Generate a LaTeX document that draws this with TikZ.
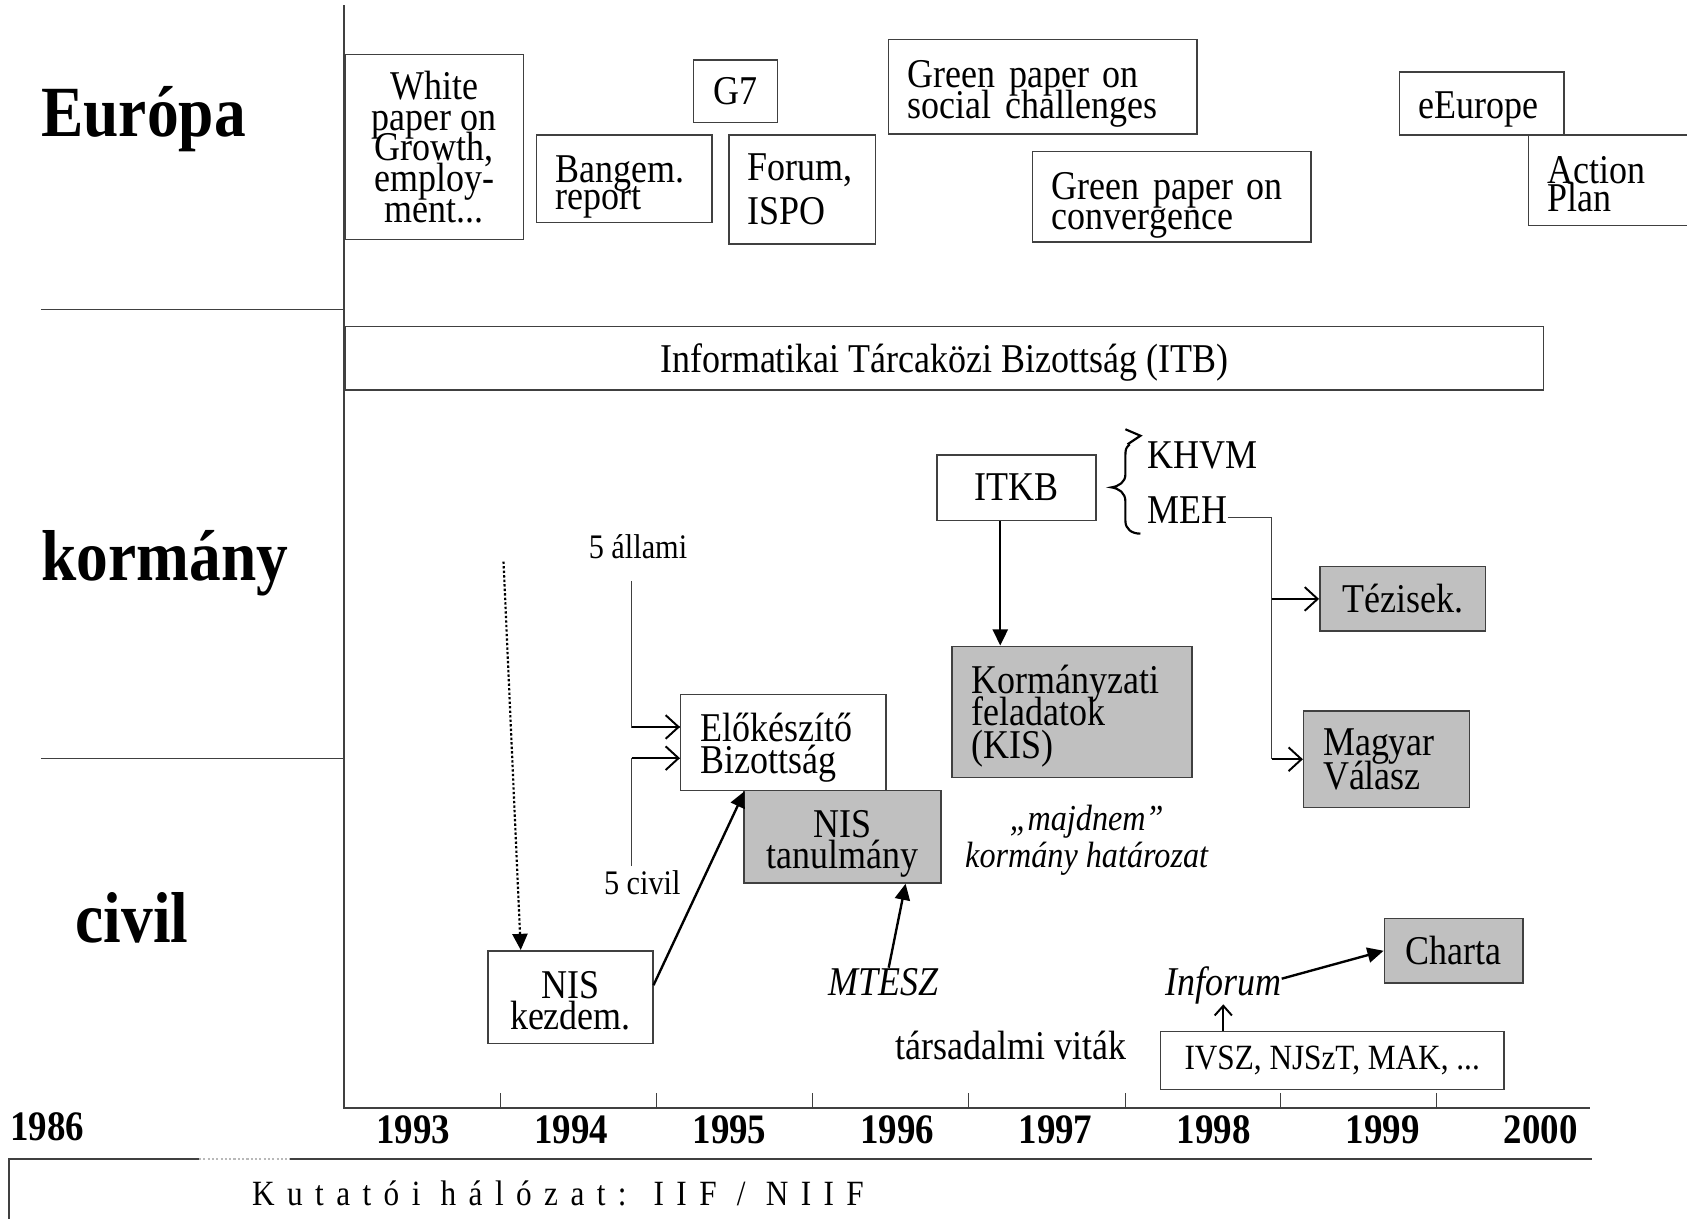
\documentclass[tikz,border=0pt]{standalone}
\usepackage{fontspec}
\setmainfont{Liberation Serif}[FakeStretch=0.88]
\newfontfamily\spacedfont{Liberation Serif}[FakeStretch=0.88,LetterSpace=35]
\usetikzlibrary{arrows.meta}
\definecolor{boxgray}{HTML}{C0C0C0}
\definecolor{edge}{HTML}{404040}
\newcommand\tightfont[1]{\fontsize{19}{#1}\selectfont\lineskiplimit=-40pt\lineskip=0pt\relax}
\newcommand\firstup[1]{\rule{0pt}{#1}}
\tikzset{
  box/.style={draw=edge, line width=0.7pt, inner sep=0pt, anchor=north west, align=center, font=\tightfont{15}},
  gbox/.style={box, fill=boxgray},
  lft/.style 2 args={text width=#1, inner xsep=#2, align=left},
  txt/.style={inner sep=0pt, font=\fontsize{19}{20}\selectfont},
  itxt/.style={inner sep=0pt, font=\fontsize{19}{20}\selectfont\itshape},
  big/.style={inner sep=0pt, anchor=base west, font=\fontsize{33.5}{36}\selectfont\bfseries},
  yr/.style={inner sep=0pt, anchor=base, font=\fontsize{19.5}{20}\selectfont\bfseries},
  rule/.style={draw=edge, line width=0.6pt},
  openarr/.style={draw=black, line width=0.9pt, -{Straight Barb[length=6pt,width=11pt,line width=0.9pt]}},
  smallopen/.style={draw=black, line width=0.9pt, -{Straight Barb[length=4.5pt,width=8pt,line width=0.9pt]}},
  fillarr/.style={draw=black, line width=1.1pt, -{Triangle[length=7.5pt,width=7pt]}},
}
\begin{document}
\begin{tikzpicture}[x=0.5pt,y=-0.5pt]
\useasboundingbox (0,0) rectangle (1568,1133);

% axes and separators
\draw[edge, line width=1pt] (320,5) -- (320,1030) -- (1478,1030);
\foreach \x in {465,610,755,900,1046,1190,1335}
  \draw[edge, line width=0.6pt] (\x,1016) -- (\x,1030);
\draw[rule] (38,288) -- (320,288);
\draw[rule] (38,705) -- (320,705);
\draw[edge, line width=1pt] (8,1140) -- (8,1077) -- (185,1077);
\draw[gray!55, line width=1pt, densely dotted] (185,1077) -- (270,1077);
\draw[edge, line width=1pt] (270,1077) -- (1480,1077);

% row labels
\node[big] (eur) at (38,127) {Európa};
\node[big] (korm) at (38,540) {kormány};
\node[big] (civ) at (70,876) {civil};

% years
\node[yr] (y86) at (44,1060) {1986};
\node[yr] (y93) at (384,1063) {1993};
\node[yr] (y94) at (531,1063) {1994};
\node[yr] (y95) at (678,1063) {1995};
\node[yr] (y96) at (834,1063) {1996};
\node[yr] (y97) at (981,1063) {1997};
\node[yr] (y98) at (1128,1063) {1998};
\node[yr] (y99) at (1285,1063) {1999};
\node[yr] (y00) at (1432,1063) {2000};
\node[inner sep=0pt, anchor=base west, font={\spacedfont\fontsize{16.5}{18}\selectfont}] (kut) at (234,1120) {Kutatói hálózat: IIF / NIIF};

% Europe boxes
\node[box, minimum width=83pt, minimum height=86pt, font=\tightfont{14.25}] (wp) at (320,50) {White\\paper on\\Growth,\\employ-\\ment...};
\node[box, lft={63.5pt}{9pt}, minimum height=40.5pt, font=\tightfont{12.5}] (bang) at (498,125) {\firstup{20pt}Bangem.\\report};
\node[box, minimum width=39pt, minimum height=29pt] (g7) at (644,55) {G7};
\node[box, lft={51pt}{8.5pt}, minimum height=50.5pt, font=\tightfont{20.5}] (forum) at (677,125) {Forum,\\ISPO};
\node[box, lft={125.5pt}{9pt}, minimum height=44pt, font=\tightfont{14.5}] (gsoc) at (825,36) {\firstup{19pt}Green paper on\\social challenges};
\node[box, lft={111.5pt}{9pt}, minimum height=42pt, font=\tightfont{14}] (gconv) at (959,140) {\firstup{21pt}Green paper on\\convergence};
\node[box, lft={58.5pt}{9pt}, minimum height=29.5pt] (eeu) at (1300,66) {\firstup{18pt}eEurope};
\node[box, lft={62pt}{9pt}, minimum height=42pt, font=\tightfont{13}] (action) at (1420,125) {\firstup{16pt}Action\\Plan};

% government
\node[box, minimum width=557pt, minimum height=29.5pt] (itb) at (320,303) {\firstup{17pt}Informatikai Tárcaközi Bizottság (ITB)};
\node[box, minimum width=74pt, minimum height=30.5pt] (itkb) at (870,422) {ITKB};
\node[gbox, lft={93.5pt}{9pt}, minimum height=61pt, font=\tightfont{15.25}] (kis) at (884,600) {\firstup{17pt}Kormányzati\\feladatok\\(KIS)};
\node[gbox, minimum width=77pt, minimum height=30pt] (tez) at (1226,526) {Tézisek.};
\node[gbox, lft={59pt}{9pt}, minimum height=45pt, font=\tightfont{15.5}] (magyar) at (1211,660) {Magyar\\Válasz};
\node[box, lft={77.5pt}{9pt}, minimum height=44.5pt, font=\tightfont{15}] (elo) at (632,645) {\firstup{18pt}Előkészítő\\Bizottság};
\node[gbox, minimum width=91.5pt, minimum height=43pt, font=\tightfont{14.5}] (nist) at (691,734) {\firstup{19pt}NIS\\tanulmány};

\node[txt, anchor=base west] (khvm) at (1066,435) {KHVM};
\node[txt, anchor=base west] (meh) at (1066,487) {MEH};
\node[txt, anchor=base, font=\fontsize{16}{18}\selectfont] (allami) at (593,519) {5 állami};
\node[txt, anchor=base, font=\fontsize{16}{18}\selectfont] (civil5) at (597,831) {5 civil};
\node[itxt, anchor=base, font=\fontsize{17}{18}\selectfont\itshape] (majd) at (1010,772) {„majdnem”};
\node[itxt, anchor=base, font=\fontsize{17}{18}\selectfont\itshape] (hat) at (1010,806) {kormány határozat};

% civil
\node[box, minimum width=76.5pt, minimum height=43pt, font=\tightfont{14.5}] (nisk) at (453,883) {\firstup{16pt}NIS\\kezdem.};
\node[itxt, anchor=base] (mtesz) at (821,925) {MTESZ};
\node[itxt, anchor=base] (inforum) at (1137,925) {Inforum};
\node[txt, anchor=base] (tars) at (940,985) {társadalmi viták};
\node[box, minimum width=159.5pt, minimum height=27pt, font=\fontsize{16.5}{18}\selectfont] (ivsz) at (1078,958) {IVSZ, NJSzT, MAK, ...};
\node[gbox, minimum width=64.5pt, minimum height=30pt] (charta) at (1286,853) {Charta};

% brace
\draw[black, line width=1pt] (1046,399) -- (1060,405) -- (1048,413);
\draw[black, line width=1pt] (1050,413) .. controls (1046,417) .. (1046,426) -- (1046,441)
  .. controls (1046,448) and (1040,452) .. (1033,453)
  .. controls (1040,454) and (1046,458) .. (1046,466) -- (1046,484)
  .. controls (1046,492) and (1052,496) .. (1060,496);

% connectors
\coordinate (aTop) at (587,540);
\coordinate (cBot) at (587,805);
\draw[rule] (aTop) |- ([yshift=7.25pt]elo.west);
\draw[openarr] ([yshift=7.25pt]elo.west -| aTop) -- ([yshift=7.25pt]elo.west);
\draw[rule] (cBot) |- ([yshift=-7.25pt]elo.west);
\draw[openarr] ([yshift=-7.25pt]elo.west -| cBot) -- ([yshift=-7.25pt]elo.west);

\draw[fillarr] ([xshift=-7.5pt]itkb.south) -- ([xshift=-7.5pt]itkb.south |- kis.north);

\coordinate (split) at (1182,481);
\draw[rule] ([yshift=3pt]meh.base east) -- (split) -- (split |- magyar.west);
\draw[openarr] (split |- tez.west) -- (tez.west);
\draw[openarr] (split |- magyar.west) -- (magyar.west);

\coordinate (dotTop) at (468,522);
\draw[fillarr, densely dotted, line width=1pt] (dotTop) -- ([xshift=15.5pt]nisk.north west);
\draw[fillarr] ([yshift=5.5pt]nisk.east) -- ([xshift=30pt]elo.south west);
\draw[fillarr] ([xshift=2.5pt]mtesz.north) -- ([xshift=29.25pt]nist.south);
\draw[smallopen] (ivsz.north -| inforum.south) -- (inforum.south);
\draw[fillarr] ([yshift=3pt]inforum.east) -- (charta.west);
\end{tikzpicture}
\end{document}
